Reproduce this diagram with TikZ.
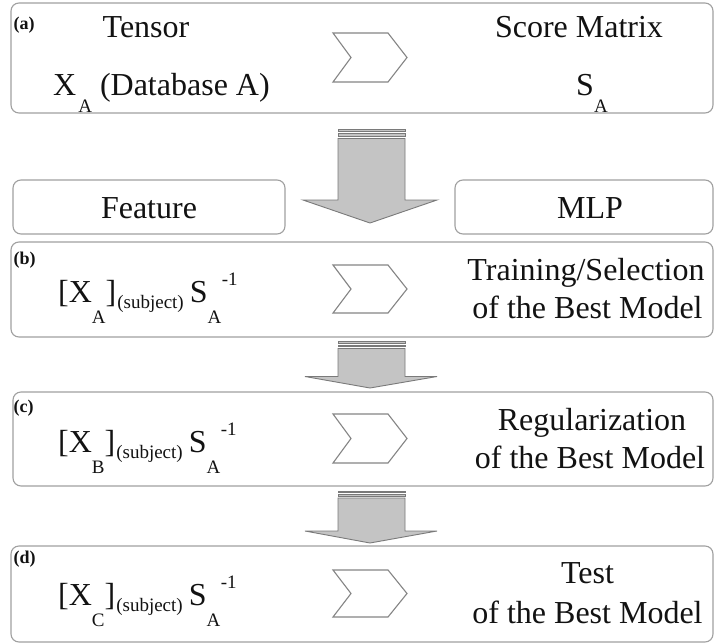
\documentclass[tikz,border=0pt]{standalone}
\usepackage{fontspec}
\setmainfont{Liberation Serif}
\definecolor{ink}{HTML}{121212}
\definecolor{boxgray}{HTML}{A0A0A0}
\definecolor{chevgray}{HTML}{858585}
\definecolor{arrowfill}{HTML}{C4C4C4}
\definecolor{arrowedge}{HTML}{7A7A7A}
% small lowered / raised pieces of the formulas
\newcommand\lowtxt[2]{\raisebox{-#1}{\fontsize{19}{19}\selectfont #2}}
\newcommand\hightxt[2]{\raisebox{#1}{\fontsize{19}{19}\selectfont #2}}
% one feature formula: [X_sub](subject) S_A^-1
\newcommand\featexpr[1]{[X\lowtxt{21pt}{#1}]\kern1pt\lowtxt{6.5pt}{(subject)}\kern6pt S\lowtxt{21pt}{A}\kern0.5pt\hightxt{17pt}{-1}}
\begin{document}
\begin{tikzpicture}[x=1pt,y=-1pt,
  panel/.style={draw=boxgray, line width=1.1pt, rounded corners=8pt, fill=white, inner sep=0pt},
  chev/.style={draw=chevgray, line width=1.1pt, fill=white, line join=miter},
  flow/.style={draw=arrowedge, line width=0.9pt, fill=arrowfill},
  txt/.style={inner sep=0pt, anchor=base, text=ink, font=\fontsize{32}{38}\selectfont},
  expr/.style={inner sep=0pt, anchor=base west, text=ink, font=\fontsize{32}{38}\selectfont},
  lbl/.style={inner sep=0pt, anchor=base west, text=ink, font=\fontsize{18}{20}\selectfont\bfseries}]
\useasboundingbox (0,0) rectangle (715,643);
\fill[white] (0,0) rectangle (715,643);

% panels
\node[panel, minimum width=702pt, minimum height=110pt] (pa) at (362,58) {};
\node[panel, minimum width=272pt, minimum height=54pt] (feat) at (149,207) {};
\node[panel, minimum width=258pt, minimum height=54pt] (mlp) at (584,207) {};
\node[panel, minimum width=702pt, minimum height=95pt] (pb) at (362,289.5) {};
\node[panel, minimum width=700pt, minimum height=94pt] (pc) at (363,439) {};
\node[panel, minimum width=702pt, minimum height=96pt] (pd) at (362,594) {};

% chevrons inside the panels
\foreach \t/\b in {33/82, 265/313, 414/463, 570/617}{
  \draw[chev] (333,\t) -- (388,\t) -- (407,{(\t+\b)/2}) -- (388,\b) -- (333,\b) -- (351,{(\t+\b)/2}) -- cycle;
}

% block arrows between the panels
\draw[flow] (338,129) rectangle (405,131);
\draw[flow] (338,133.5) rectangle (405,136);
\draw[flow] (338,138.5) -- (338,200) -- (303,200) -- (370,223) -- (437,200) -- (405,200) -- (405,138.5) -- cycle;

\draw[flow] (338,341.5) rectangle (405,343);
\draw[flow] (338,345) rectangle (405,346.5);
\draw[flow] (338,348.5) -- (338,376.5) -- (305,376.5) -- (370,388) -- (437,376.5) -- (405,376.5) -- (405,348.5) -- cycle;

\draw[flow] (338,491) rectangle (405,492.5);
\draw[flow] (338,494.5) rectangle (405,496);
\draw[flow] (338,498) -- (338,531) -- (305,531) -- (370,543) -- (437,531) -- (405,531) -- (405,498) -- cycle;

% panel (a)
\node[lbl] (la) at (13.5,29) {(a)};
\node[txt] (tensor) at (146,37) {Tensor};
\node[expr] (xa) at (53,95) {X\kern2pt\lowtxt{17pt}{A}\ (Database A)};
\node[txt] (score) at (579,37) {Score Matrix};
\node[expr] (sa) at (576,95) {S\lowtxt{17pt}{A}};

% side boxes
\node[txt] (featt) at (149,218) {Feature};
\node[txt] (mlpt) at (590,218) {MLP};

% panel (b)
\node[lbl] (lb) at (13.5,264) {(b)};
\node[expr] (eb) at (58,302) {\featexpr{A}};
\node[txt] (rb1) at (586,280) {Training/Selection};
\node[txt] (rb2) at (587.5,318) {of the Best Model};

% panel (c)
\node[lbl] (lc) at (13.5,412) {(c)};
\node[expr] (ec) at (58,452) {\featexpr{B}};
\node[txt] (rc1) at (592,430) {Regularization};
\node[txt] (rc2) at (590,468) {of the Best Model};

% panel (d)
\node[lbl] (ld) at (13.5,563) {(d)};
\node[expr] (ed) at (58,605) {\featexpr{C}};
\node[txt] (rd1) at (587.5,583) {Test};
\node[txt] (rd2) at (587.5,623) {of the Best Model};
\end{tikzpicture}
\end{document}
